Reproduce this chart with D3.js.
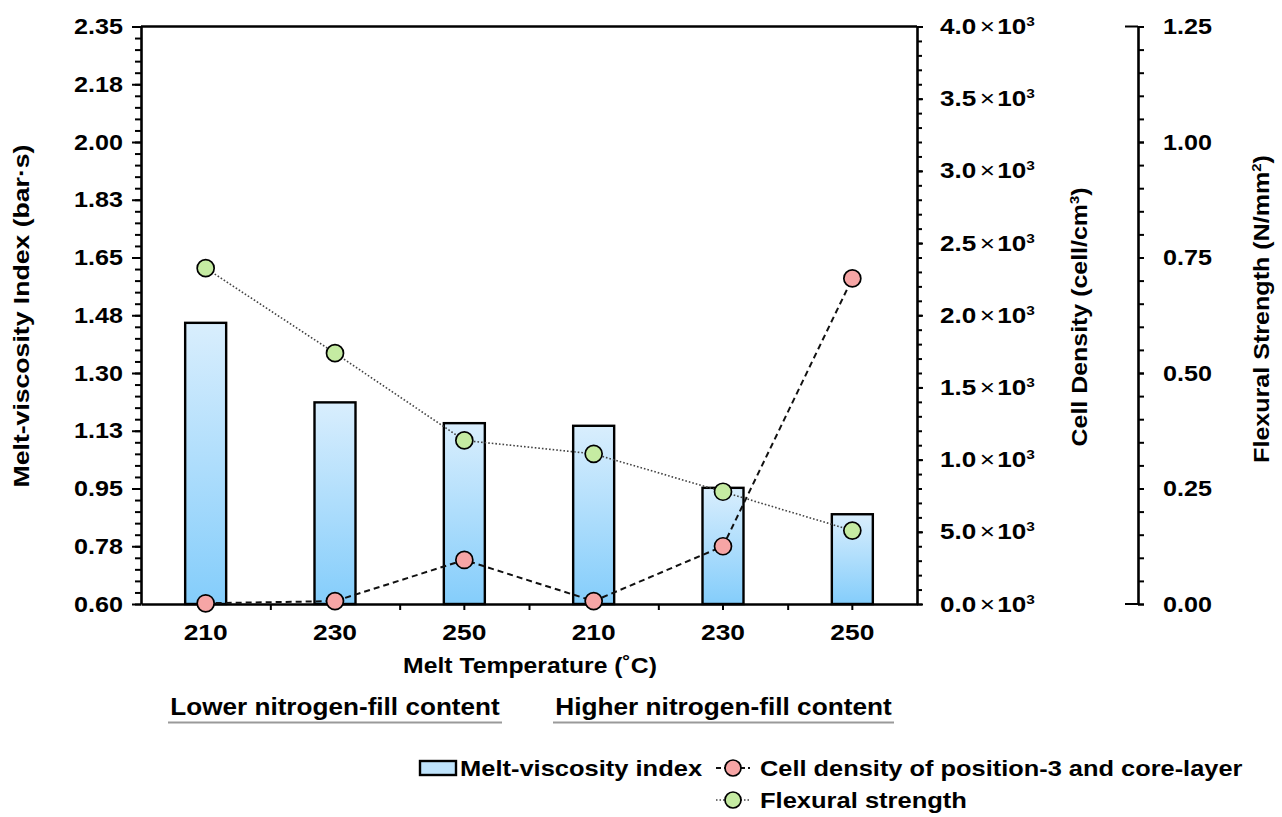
<!DOCTYPE html>
<html>
<head>
<meta charset="utf-8">
<script src="https://cdn.jsdelivr.net/npm/d3@7"></script>
<style>
  body { margin: 0; background: #fff; }
  text { font-family: "Liberation Sans", Arial, sans-serif; font-weight: bold; fill: #000; }
</style>
</head>
<body>
<svg id="chart" width="1282" height="817"></svg>
<script>
// ---- data ----
const categories = ["210", "230", "250", "210", "230", "250"];
const viscosity = [1.452, 1.211, 1.148, 1.140, 0.952, 0.872];        // bar·s
const cellDensity = [5, 20, 305, 20, 400, 2255];                     // cell/cm3
const flexural = [0.727, 0.543, 0.354, 0.325, 0.243, 0.159];         // N/mm2
const groups = ["Lower nitrogen-fill content", "Higher nitrogen-fill content"];

// tick values and their labels
const viscTicks = [0.6, 0.775, 0.95, 1.125, 1.3, 1.475, 1.65, 1.825, 2.0, 2.175, 2.35];
const viscTickLabels = ["0.60", "0.78", "0.95", "1.13", "1.30", "1.48", "1.65", "1.83", "2.00", "2.18", "2.35"];
const densTicks = [0, 500, 1000, 1500, 2000, 2500, 3000, 3500, 4000];
const densTickLabels = ["0.0", "5.0", "1.0", "1.5", "2.0", "2.5", "3.0", "3.5", "4.0"];
const flexTicks = [0, 0.25, 0.5, 0.75, 1.0, 1.25];
const flexTickLabels = ["0.00", "0.25", "0.50", "0.75", "1.00", "1.25"];

// ---- layout ----
const pLeft = 141, pRight = 917, pTop = 26.5, pBottom = 604;
const thirdX = 1138;

const svg = d3.select("#chart");

// the source font is a little wider than Arial, so stretch text horizontally
// around its anchor point (the x attribute) to a target width
function stretch(sel, target) {
  sel.each(function () {
    const w = this.getBBox().width;
    const s = target / w;
    const a = +this.getAttribute("x") || 0;
    d3.select(this).attr("transform", `translate(${a * (1 - s)},0) scale(${s},1)`);
  });
}
// rotated title: text sits at x=0 in a frame rotated by -90
function rotTitle(x0, y0, size, target) {
  const t = svg.append("text")
    .attr("text-anchor", "middle")
    .style("font-size", size + "px");
  t.fit = () => {
    const w = t.node().getBBox().width;
    t.attr("transform", `translate(${x0},${y0}) rotate(-90) scale(${target / w},1)`);
  };
  return t;
}

// gradients
const defs = svg.append("defs");
const grad = defs.append("linearGradient")
  .attr("id", "barGrad")
  .attr("x1", 0).attr("y1", 0).attr("x2", 0).attr("y2", 1);
grad.append("stop").attr("offset", "0%").attr("stop-color", "#d9eefd");
grad.append("stop").attr("offset", "100%").attr("stop-color", "#84cdfb");

// scales
const idx = d3.range(categories.length);
const x = d3.scaleBand().domain(idx).range([pLeft, pRight]);
const xLin = d3.scaleLinear().domain([0, categories.length]).range([pLeft, pRight]);
const yV = d3.scaleLinear().domain([0.6, 2.35]).range([pBottom, pTop]);
const yD = d3.scaleLinear().domain([0, 4000]).range([pBottom, pTop]);
const yF = d3.scaleLinear().domain([0, 1.25]).range([pBottom, pTop]);

const barW = 41;

// bars
svg.append("g").selectAll("rect")
  .data(viscosity)
  .enter().append("rect")
  .attr("x", (d, i) => x(i) + x.bandwidth() / 2 - barW / 2)
  .attr("y", d => yV(d))
  .attr("width", barW)
  .attr("height", d => yV(0.6) - yV(d))
  .attr("fill", "url(#barGrad)")
  .attr("stroke", "#000")
  .attr("stroke-width", 2.4);

// styling helper for axes
function styleAxis(g, w) {
  g.selectAll("path").attr("stroke", "#000").attr("stroke-width", w);
  g.selectAll("line").attr("stroke", "#000").attr("stroke-width", 2);
}

// top frame line
svg.append("line")
  .attr("x1", pLeft).attr("x2", pRight)
  .attr("y1", pTop).attr("y2", pTop)
  .attr("stroke", "#000").attr("stroke-width", 2.4);

// left axis: minor then major
const gVmin = svg.append("g").attr("transform", `translate(${pLeft},0)`)
  .call(d3.axisLeft(yV).tickValues(d3.range(0, 51).map(i => 0.6 + i * 0.035)).tickSize(6).tickFormat(""));
gVmin.select("path").remove();
styleAxis(gVmin, 2);
const gV = svg.append("g").attr("transform", `translate(${pLeft},0)`)
  .call(d3.axisLeft(yV).tickValues(viscTicks).tickSize(9).tickSizeOuter(0).tickPadding(9)
    .tickFormat((d, i) => viscTickLabels[i]));
styleAxis(gV, 2.6);
gV.selectAll("text").style("font-size", "22px").call(stretch, 49);

// right axis (cell density)
const gDmin = svg.append("g").attr("transform", `translate(${pRight},0)`)
  .call(d3.axisRight(yD).tickValues(d3.range(0, 4001, 100)).tickSize(5).tickFormat(""));
gDmin.select("path").remove();
styleAxis(gDmin, 2);
const gD = svg.append("g").attr("transform", `translate(${pRight},0)`)
  .call(d3.axisRight(yD).tickValues(densTicks).tickSize(6).tickSizeOuter(0).tickPadding(17)
    .tickFormat(""));
styleAxis(gD, 2.6);
gD.selectAll(".tick").each(function (d, i) {
  const t = d3.select(this).select("text").style("font-size", "22px");
  t.append("tspan").text(densTickLabels[i]);
  t.append("tspan").attr("font-weight", "normal").attr("dx", 3).text("×");
  t.append("tspan").attr("dx", 2).text("10");
  t.append("tspan").attr("dy", -8).style("font-size", "13px").text("3");
});
gD.selectAll(".tick text").call(stretch, 95);

// third axis (flexural strength)
const gFmin = svg.append("g").attr("transform", `translate(${thirdX},0)`)
  .call(d3.axisRight(yF).tickValues(d3.range(0, 26).map(i => i * 0.05)).tickSize(6).tickFormat(""));
gFmin.select("path").remove();
styleAxis(gFmin, 2);
const gF = svg.append("g").attr("transform", `translate(${thirdX},0)`)
  .call(d3.axisRight(yF).tickValues(flexTicks).tickSize(6).tickSizeOuter(0).tickPadding(19)
    .tickFormat((d, i) => flexTickLabels[i]));
styleAxis(gF, 2.6);
gF.selectAll("text").style("font-size", "22px").call(stretch, 49);
// stubs at the ends of the third axis
[0, 1.25].forEach(v => {
  svg.append("line")
    .attr("x1", thirdX - 13).attr("x2", thirdX)
    .attr("y1", yF(v)).attr("y2", yF(v))
    .attr("stroke", "#000").attr("stroke-width", 2);
});

// bottom axis: ticks at bar centres and at boundaries
const gXb = svg.append("g").attr("transform", `translate(0,${pBottom})`)
  .call(d3.axisBottom(xLin).tickValues(d3.range(1, categories.length)).tickSize(6).tickSizeOuter(0).tickFormat(""));
styleAxis(gXb, 2.6);
const gX = svg.append("g").attr("transform", `translate(0,${pBottom})`)
  .call(d3.axisBottom(x).tickSize(6).tickSizeOuter(0).tickPadding(14).tickFormat(i => categories[i]));
gX.select("path").remove();
styleAxis(gX, 2.6);
gX.selectAll("text").style("font-size", "22px").call(stretch, 44);

// lines
const cx = i => x(i) + x.bandwidth() / 2;
svg.append("path")
  .datum(cellDensity)
  .attr("fill", "none")
  .attr("stroke", "#111")
  .attr("stroke-width", 2)
  .attr("stroke-dasharray", "6,4")
  .attr("d", d3.line().x((d, i) => cx(i)).y(d => yD(d)));
svg.append("path")
  .datum(flexural)
  .attr("fill", "none")
  .attr("stroke", "#444")
  .attr("stroke-width", 1.6)
  .attr("stroke-dasharray", "1.6,2")
  .attr("d", d3.line().x((d, i) => cx(i)).y(d => yF(d)));

// markers
svg.append("g").selectAll("circle")
  .data(flexural).enter().append("circle")
  .attr("cx", (d, i) => cx(i)).attr("cy", d => yF(d)).attr("r", 8.5)
  .attr("fill", "#c5eba2").attr("stroke", "#000").attr("stroke-width", 1.7);
svg.append("g").selectAll("circle")
  .data(cellDensity).enter().append("circle")
  .attr("cx", (d, i) => cx(i)).attr("cy", d => yD(d)).attr("r", 8.5)
  .attr("fill", "#f6a5a5").attr("stroke", "#000").attr("stroke-width", 1.7);

// axis titles
const vTitle = rotTitle(29, 316, 22, 343);
vTitle.text("Melt-viscosity Index (bar·s)");
vTitle.fit();

const cdTitle = rotTitle(1087, 317, 22, 259);
cdTitle.append("tspan").text("Cell Density  (cell/cm");
cdTitle.append("tspan").attr("dy", -8).style("font-size", "13px").text("3");
cdTitle.append("tspan").attr("dy", 8).text(")");
cdTitle.fit();

const fsTitle = rotTitle(1269, 309, 22, 308);
fsTitle.append("tspan").text("Flexural  Strength  (N/mm");
fsTitle.append("tspan").attr("dy", -8).style("font-size", "13px").text("2");
fsTitle.append("tspan").attr("dy", 8).text(")");
fsTitle.fit();

svg.append("text")
  .attr("x", 530).attr("y", 673)
  .attr("text-anchor", "middle")
  .style("font-size", "22px")
  .text("Melt Temperature (˚C)")
  .call(stretch, 254);

// group labels with underline
const groupMid = [335, 723.5];
const groupW = [330, 337];
groups.forEach((g, k) => {
  svg.append("text")
    .attr("x", groupMid[k]).attr("y", 715)
    .attr("text-anchor", "middle")
    .style("font-size", "23px")
    .text(g)
    .call(stretch, groupW[k]);
  svg.append("line")
    .attr("x1", groupMid[k] - groupW[k] / 2 - 2).attr("x2", groupMid[k] + groupW[k] / 2 + 2)
    .attr("y1", 722.5).attr("y2", 722.5)
    .attr("stroke", "#9a9a9a").attr("stroke-width", 2);
});

// legend
const lg = svg.append("g");
lg.append("rect").attr("x", 420).attr("y", 761).attr("width", 36).attr("height", 14)
  .attr("fill", "#bfe3fb").attr("stroke", "#000").attr("stroke-width", 2.4);
lg.append("text").attr("x", 460).attr("y", 776).style("font-size", "22px")
  .text("Melt-viscosity index").call(stretch, 243);

lg.append("line").attr("x1", 716).attr("x2", 750).attr("y1", 768).attr("y2", 768)
  .attr("stroke", "#111").attr("stroke-width", 1.8).attr("stroke-dasharray", "5,3");
lg.append("circle").attr("cx", 733).attr("cy", 768).attr("r", 8)
  .attr("fill", "#f6a5a5").attr("stroke", "#000").attr("stroke-width", 1.7);
lg.append("text").attr("x", 760).attr("y", 776).style("font-size", "22px")
  .text("Cell density of position-3 and core-layer").call(stretch, 483);

lg.append("line").attr("x1", 716).attr("x2", 750).attr("y1", 800).attr("y2", 800)
  .attr("stroke", "#444").attr("stroke-width", 1.5).attr("stroke-dasharray", "1.5,2");
lg.append("circle").attr("cx", 733).attr("cy", 800).attr("r", 8)
  .attr("fill", "#c5eba2").attr("stroke", "#000").attr("stroke-width", 1.7);
lg.append("text").attr("x", 760).attr("y", 808).style("font-size", "22px")
  .text("Flexural strength").call(stretch, 207);
</script>
</body>
</html>
